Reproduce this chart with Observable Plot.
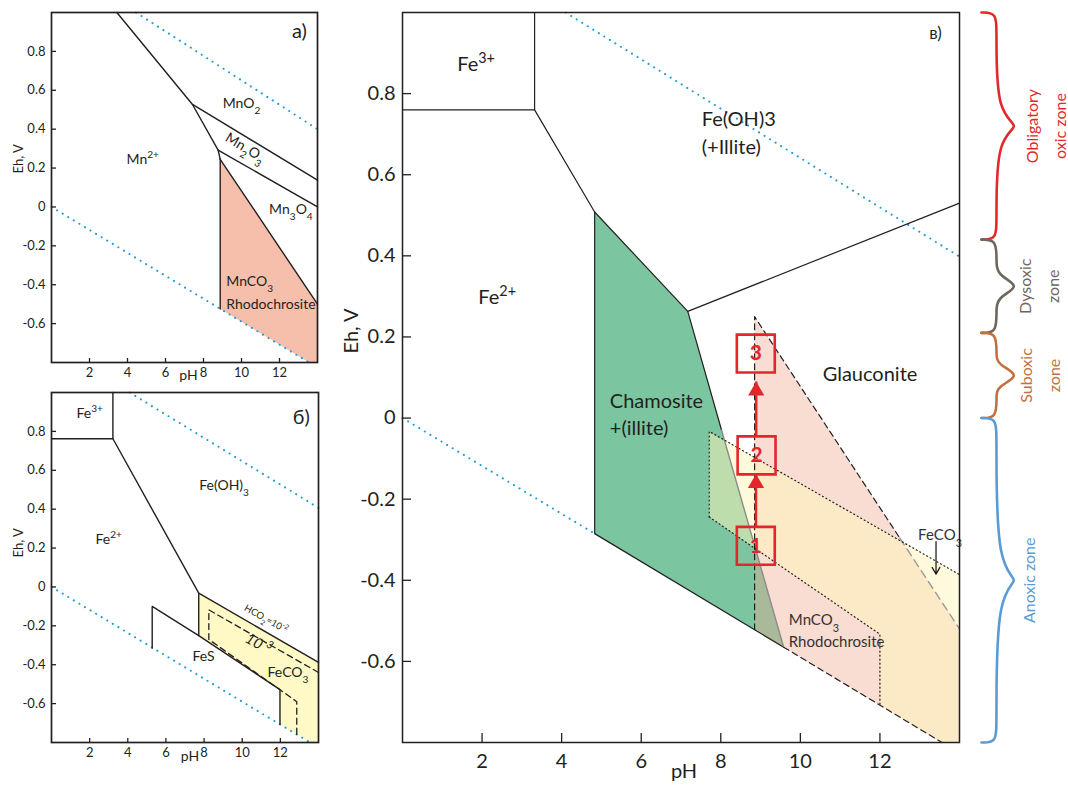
<!DOCTYPE html>
<html><head><meta charset="utf-8">
<script src="https://cdn.jsdelivr.net/npm/d3@7"></script>
<script src="https://cdn.jsdelivr.net/npm/@observablehq/plot@0.6"></script>
<style>
body{margin:0;background:#fff;}
#wrap{position:relative;width:1068px;height:785px;overflow:hidden;background:#fff;}
#wrap svg{position:absolute;overflow:visible;}
</style></head><body><div id="wrap"></div>
<script>
// ---------- shared axes ----------
const phDomain = [0, 14];
const ehDomain = [-0.8, 1.0];
const phTicks = [2, 4, 6, 8, 10, 12];
const ehTicks = [-0.6, -0.4, -0.2, 0, 0.2, 0.4, 0.6, 0.8];

// ---------- panel а) Mn ----------
const mnBoundaries = [
  [[3.44, 1.0], [7.42, 0.527], [8.77, 0.292], [8.88, 0.245]],
  [[7.42, 0.527], [14, 0.138]],
  [[8.77, 0.292], [14, 0.0]],
  [[8.88, 0.245], [14, -0.5]],
  [[8.88, 0.245], [8.88, -0.525]]
];
const mnRhodochrosite = [[8.88, 0.245], [14, -0.5], [14, -0.8], [13.56, -0.8], [8.88, -0.525]];
const waterUpperA = [[4.45, 1.0], [14, 0.40]];
const waterLowerA = [[0, 0], [13.56, -0.8]];
const mnLabels = [
  {t: "Mn^{2+}", ph: 4.8, eh: 0.246},
  {t: "MnO_{2}", ph: 10.0, eh: 0.533},
  {t: "Mn_{3}O_{4}", ph: 12.6, eh: -0.015}
];
const mnLabelsRot = [{t: "Mn_{2}O_{3}", ph: 10.2, eh: 0.305}];
const mnLabelsLeft = [
  {t: "MnCO_{3}", ph: 9.2, eh: -0.385},
  {t: "Rhodochrosite", ph: 9.2, eh: -0.502}
];
const tagA = [{t: "а)", ph: 13.05, eh: 0.9}];

// ---------- panel б) Fe + S + CO2 ----------
const feBoundariesB = [
  [[0, 0.762], [3.22, 0.762], [3.22, 1.0]],
  [[3.22, 0.762], [7.72, -0.032], [14, -0.388]],
  [[7.72, -0.032], [7.72, -0.25]],
  [[5.28, -0.315], [5.28, -0.10], [7.72, -0.25], [11.98, -0.528], [11.98, -0.707]]
];
const co2DashedB = [[14, -0.44], [8.25, -0.118], [8.25, -0.27], [12.86, -0.59], [12.86, -0.759]];
const feco3FillB = [[7.72, -0.032], [14, -0.388], [14, -0.8], [13.56, -0.8], [11.98, -0.707], [11.98, -0.528], [7.72, -0.25]];
const waterUpperB = [[4.1, 1.0], [14, 0.407]];
const waterLowerB = [[0, 0], [13.56, -0.8]];
const feLabelsB = [
  {t: "Fe^{3+}", ph: 2.0, eh: 0.89},
  {t: "Fe(OH)_{3}", ph: 9.05, eh: 0.523},
  {t: "Fe^{2+}", ph: 3.0, eh: 0.244},
  {t: "FeS", ph: 7.97, eh: -0.357},
  {t: "FeCO_{3}", ph: 12.4, eh: -0.44}
];
const co2LabelB = [{t: "HCO_{2}=10^{-2}", ph: 11.25, eh: -0.165}];
const co3LabelB = [{t: "10^{-3}", ph: 10.85, eh: -0.293}];
const tagB = [{t: "б)", ph: 13.1, eh: 0.873}];

// ---------- panel в) Fe silicates ----------
const feBoundariesC = [
  [[0, 0.76], [3.32, 0.76], [3.32, 1.0]],
  [[3.32, 0.76], [4.83, 0.508], [7.17, 0.263], [8.02, -0.03]],
  [[7.17, 0.263], [14, 0.53]],
  [[4.83, 0.508], [4.83, -0.285], [8.85, -0.522], [9.58, -0.565]]
];
const chamositeEdgeC = [[8.02, -0.03], [9.58, -0.565]];
const chamositeC = [[4.83, 0.508], [7.17, 0.263], [9.58, -0.565], [4.83, -0.285]];
const glauconiteC = [[8.85, 0.25], [14, -0.52], [14, -0.8], [13.56, -0.8], [8.85, -0.522]];
const feco3C = [[7.71, -0.033], [14, -0.386], [14, -0.8], [13.56, -0.8], [12, -0.708], [12, -0.533], [7.71, -0.244]];
const glauconiteDashC = [[8.85, -0.522], [8.85, 0.25], [12.5, -0.296]];
const glauconiteDashGreyC = [[12.5, -0.296], [14, -0.52]];
const bottomDashC = [[9.58, -0.565], [13.56, -0.8]];
const feco3DotUpperC = [[7.71, -0.244], [7.71, -0.033], [14, -0.386]];
const rhodoDotC = [[7.71, -0.244], [12, -0.533], [12, -0.708]];
const waterUpperC = [[4.1, 1.0], [14, 0.398]];
const waterLowerC = [[0, 0], [4.83, -0.285]];
const feLabelsC = [
  {t: "Fe^{3+}", ph: 1.85, eh: 0.871},
  {t: "Fe^{2+}", ph: 2.38, eh: 0.297},
  {t: "Glauconite", ph: 11.75, eh: 0.107}
];
const feLabelsLeftC = [
  {t: "Fe(OH)3", ph: 7.52, eh: 0.737},
  {t: "(+Illite)", ph: 7.52, eh: 0.668},
  {t: "Chamosite", ph: 5.21, eh: 0.041},
  {t: "+(illite)", ph: 5.21, eh: -0.025}
];
const smallLabelsC = [
  {t: "MnCO_{3}", ph: 9.71, eh: -0.498},
  {t: "Rhodochrosite", ph: 9.71, eh: -0.553},
  {t: "FeCO_{3}", ph: 12.96, eh: -0.288}
];
const feco3ArrowC = [{ph: 13.41, from: -0.305, to: -0.385}];
const tagC = [{t: "в)", ph: 13.4, eh: 0.948}];
const stages = [
  {n: "1", ph: 8.88, eh: -0.315},
  {n: "2", ph: 8.9, eh: -0.092},
  {n: "3", ph: 8.88, eh: 0.159}
];
const stageArrows = [
  {ph: 8.885, from: -0.268, to: -0.138},
  {ph: 8.89, from: -0.045, to: 0.09}
];

// ---------- redox zones ----------
const zones = [
  {name: "Obligatory\noxic zone", top: 1.0, bottom: 0.44},
  {name: "Dysoxic\nzone", top: 0.44, bottom: 0.21},
  {name: "Suboxic\nzone", top: 0.21, bottom: 0.0},
  {name: "Anoxic zone", top: 0.0, bottom: -0.8}
];
const zoneColors = ["#E2292B", "#6F665C", "#C4703D", "#5B9BD5"];

// ---------- styles ----------
const FONT = "Lato, 'Open Sans', sans-serif";
const INK = "#231F20";
const RED = "#E3262B";
const BLUE_DOT = {stroke: "#1F9AD6", strokeWidth: 2, strokeDasharray: "0.1 6.4", strokeLinecap: "round"};
const fmtEh = d => d === 0 ? "0" : d.toFixed(1);

const line = (pts, o = {}) => Plot.line(pts, {x: d => d[0], y: d => d[1], stroke: INK, strokeWidth: 1.4, ...o});
const poly = (pts, fill, o = {}) => Plot.line(pts, {x: d => d[0], y: d => d[1], fill, stroke: "none", ...o});
const txt = (arr, o = {}) => Plot.text(arr, {x: "ph", y: "eh", text: "t", fill: INK, ...o});

function panel(cfg, marks) {
  const big = cfg.big;
  return Plot.plot({
    width: cfg.width, height: cfg.height,
    marginLeft: cfg.ml, marginRight: cfg.mr, marginTop: cfg.mt, marginBottom: cfg.mb,
    x: {domain: phDomain, label: null},
    y: {domain: ehDomain, label: null},
    style: {fontFamily: FONT, fontSize: (big ? 20 : 13) + "px", color: INK, background: "transparent", overflow: "visible"},
    marks: [
      ...marks,
      Plot.axisX({ticks: phTicks, tickSize: big ? -9 : -4, tickPadding: big ? 20 : 9.5, tickFormat: d => String(d), label: null, strokeWidth: 1.3}),
      Plot.axisY({ticks: ehTicks, tickSize: big ? -9 : -5, tickPadding: big ? 16 : 11, tickFormat: fmtEh, label: null, strokeWidth: 1.3}),
      Plot.frame({stroke: INK, strokeWidth: big ? 1.5 : 1.7}),
      Plot.text(["pH"], {text: d => d, frameAnchor: "bottom", dx: cfg.phDx, dy: cfg.phDy, fontSize: big ? 20 : 14, fill: INK}),
      Plot.text(["Eh, V"], {text: d => d, frameAnchor: "left", rotate: -90, dx: cfg.ehDx, dy: cfg.ehDy, fontSize: big ? 20 : 13, fill: INK})
    ]
  });
}

const svgA = panel({width: 330, height: 385, ml: 51, mr: 13, mt: 12, mb: 23, phDx: 4, phDy: 17, ehDx: -33, ehDy: -14}, [
  poly(mnRhodochrosite, "#F5BFAB"),
  line(waterUpperA, BLUE_DOT),
  line(waterLowerA, BLUE_DOT),
  ...mnBoundaries.map(l => line(l)),
  txt(mnLabels, {fontSize: 14}),
  txt(mnLabelsRot, {fontSize: 14, rotate: 31}),
  txt(mnLabelsLeft, {fontSize: 14, textAnchor: "start"}),
  txt(tagA, {fontSize: 20})
]);

const svgB = panel({width: 330, height: 405, ml: 51, mr: 12, mt: 12, mb: 43, phDx: 5, phDy: 18, ehDx: -33, ehDy: -10}, [
  poly(feco3FillB, "#FFF9C6"),
  line(waterUpperB, BLUE_DOT),
  line(waterLowerB, BLUE_DOT),
  ...feBoundariesB.map(l => line(l)),
  line(co2DashedB, {strokeDasharray: "6 4", strokeWidth: 1.3}),
  txt(feLabelsB, {fontSize: 14}),
  txt(co2LabelB, {fontSize: 9.5, rotate: 29}),
  txt(co3LabelB, {fontSize: 15, rotate: 29, fontStyle: "italic"}),
  txt(tagB, {fontSize: 20})
]);

const svgC = panel({width: 640, height: 785, ml: 72, mr: 11, mt: 12, mb: 43, big: true, phDx: 3, phDy: 35, ehDx: -51, ehDy: -24}, [
  poly(chamositeC, "#7BC5A0"),
  poly(glauconiteC, "#F0A78E", {fillOpacity: 0.4}),
  poly(feco3C, "#FFF5BA", {fillOpacity: 0.5}),
  line(waterUpperC, BLUE_DOT),
  line(waterLowerC, BLUE_DOT),
  ...feBoundariesC.map(l => line(l, {strokeWidth: 1.2})),
  line(chamositeEdgeC, {stroke: "#8C8C8C", strokeWidth: 1.4}),
  line(glauconiteDashC, {strokeDasharray: "6 4", strokeWidth: 1.2}),
  line(glauconiteDashGreyC, {stroke: "#9A9A9A", strokeDasharray: "8 5", strokeWidth: 1.4}),
  line(bottomDashC, {strokeDasharray: "6 4", strokeWidth: 1.2}),
  line(feco3DotUpperC, {strokeDasharray: "1 3", strokeWidth: 1.2}),
  line(rhodoDotC, {strokeDasharray: "1 3", strokeWidth: 1.2}),
  txt(feLabelsC, {fontSize: 20}),
  txt(feLabelsLeftC, {fontSize: 20, textAnchor: "start"}),
  txt(smallLabelsC, {fontSize: 15, textAnchor: "start", fill: "#333"}),
  Plot.arrow(feco3ArrowC, {x1: "ph", x2: "ph", y1: "from", y2: "to", stroke: INK, strokeWidth: 1.3, headLength: 9}),
  txt(tagC, {fontSize: 17}),
  Plot.link(stageArrows, {x1: "ph", x2: "ph", y1: "from", y2: "to", stroke: RED, strokeWidth: 2.5}),
  Plot.dot(stageArrows, {x: "ph", y: "to", symbol: "triangle", r: 6, fill: RED, stroke: "none", dy: 9.3}),
  Plot.dot(stages, {x: "ph", y: "eh", symbol: "square", r: 21.4, fill: "none", stroke: RED, strokeWidth: 2.6}),
  Plot.text(stages, {x: "ph", y: "eh", text: "n", fill: RED, fontSize: 21, fontWeight: "bold"})
]);

// brackets for redox zones, sharing the Eh scale of panel в
const pxPerEh = 730 / (ehDomain[1] - ehDomain[0]);
function bracePts(top, bottom) {
  const r = 10 / pxPerEh, m = (top + bottom) / 2;
  const x0 = 981, x1 = 996, xt = 1022;
  return [[x0, top], [x1, top], [x1, top - 2 * r], [x1, m + 1.1 * r], [xt, m], [x1, m - 1.1 * r], [x1, bottom + 2 * r], [x1, bottom], [x0, bottom]];
}
const zoneLabelX = [1043, 1036, 1037, 1026];
const svgZ = Plot.plot({
  width: 109, height: 785, marginLeft: 0, marginRight: 0, marginTop: 12, marginBottom: 43,
  x: {domain: [959, 1068], axis: null},
  y: {domain: ehDomain, axis: null},
  style: {fontFamily: FONT, background: "transparent", overflow: "visible"},
  marks: zones.flatMap((z, i) => [
    Plot.line(bracePts(z.top, z.bottom), {x: d => d[0], y: d => d[1], curve: "basis", stroke: zoneColors[i], strokeWidth: 2.6}),
    Plot.text([z], {x: () => zoneLabelX[i], y: d => (d.top + d.bottom) / 2, text: "name", rotate: -90, fill: zoneColors[i], fontSize: 16, lineHeight: 1.75})
  ])
});

// super/subscripts: ^{..} and _{..}
function rich(svg) {
  const NS = "http://www.w3.org/2000/svg";
  for (const t of svg.querySelectorAll("text")) {
    const spans = t.querySelectorAll("tspan");
    const targets = spans.length ? [...spans] : [t];
    for (const el of targets) {
      const s = el.textContent;
      if (!/[\^_]\{/.test(s)) continue;
      const parts = s.split(/([\^_]\{[^}]*\})/).filter(p => p);
      el.textContent = "";
      for (const p of parts) {
        const ts = document.createElementNS(NS, "tspan");
        if (/^[\^_]\{/.test(p)) {
          ts.textContent = p.slice(2, -1);
          ts.setAttribute("baseline-shift", p[0] === "^" ? "super" : "sub");
          ts.setAttribute("font-size", "72%");
        } else ts.textContent = p;
        el.appendChild(ts);
      }
    }
  }
}

const wrap = document.getElementById("wrap");
[[svgA, 0, 0], [svgB, 0, 380], [svgZ, 959, 0], [svgC, 330, 0]].forEach(([s, x, y]) => {
  s.style.left = x + "px"; s.style.top = y + "px";
  wrap.appendChild(s);
  rich(s);
});
</script></body></html>
